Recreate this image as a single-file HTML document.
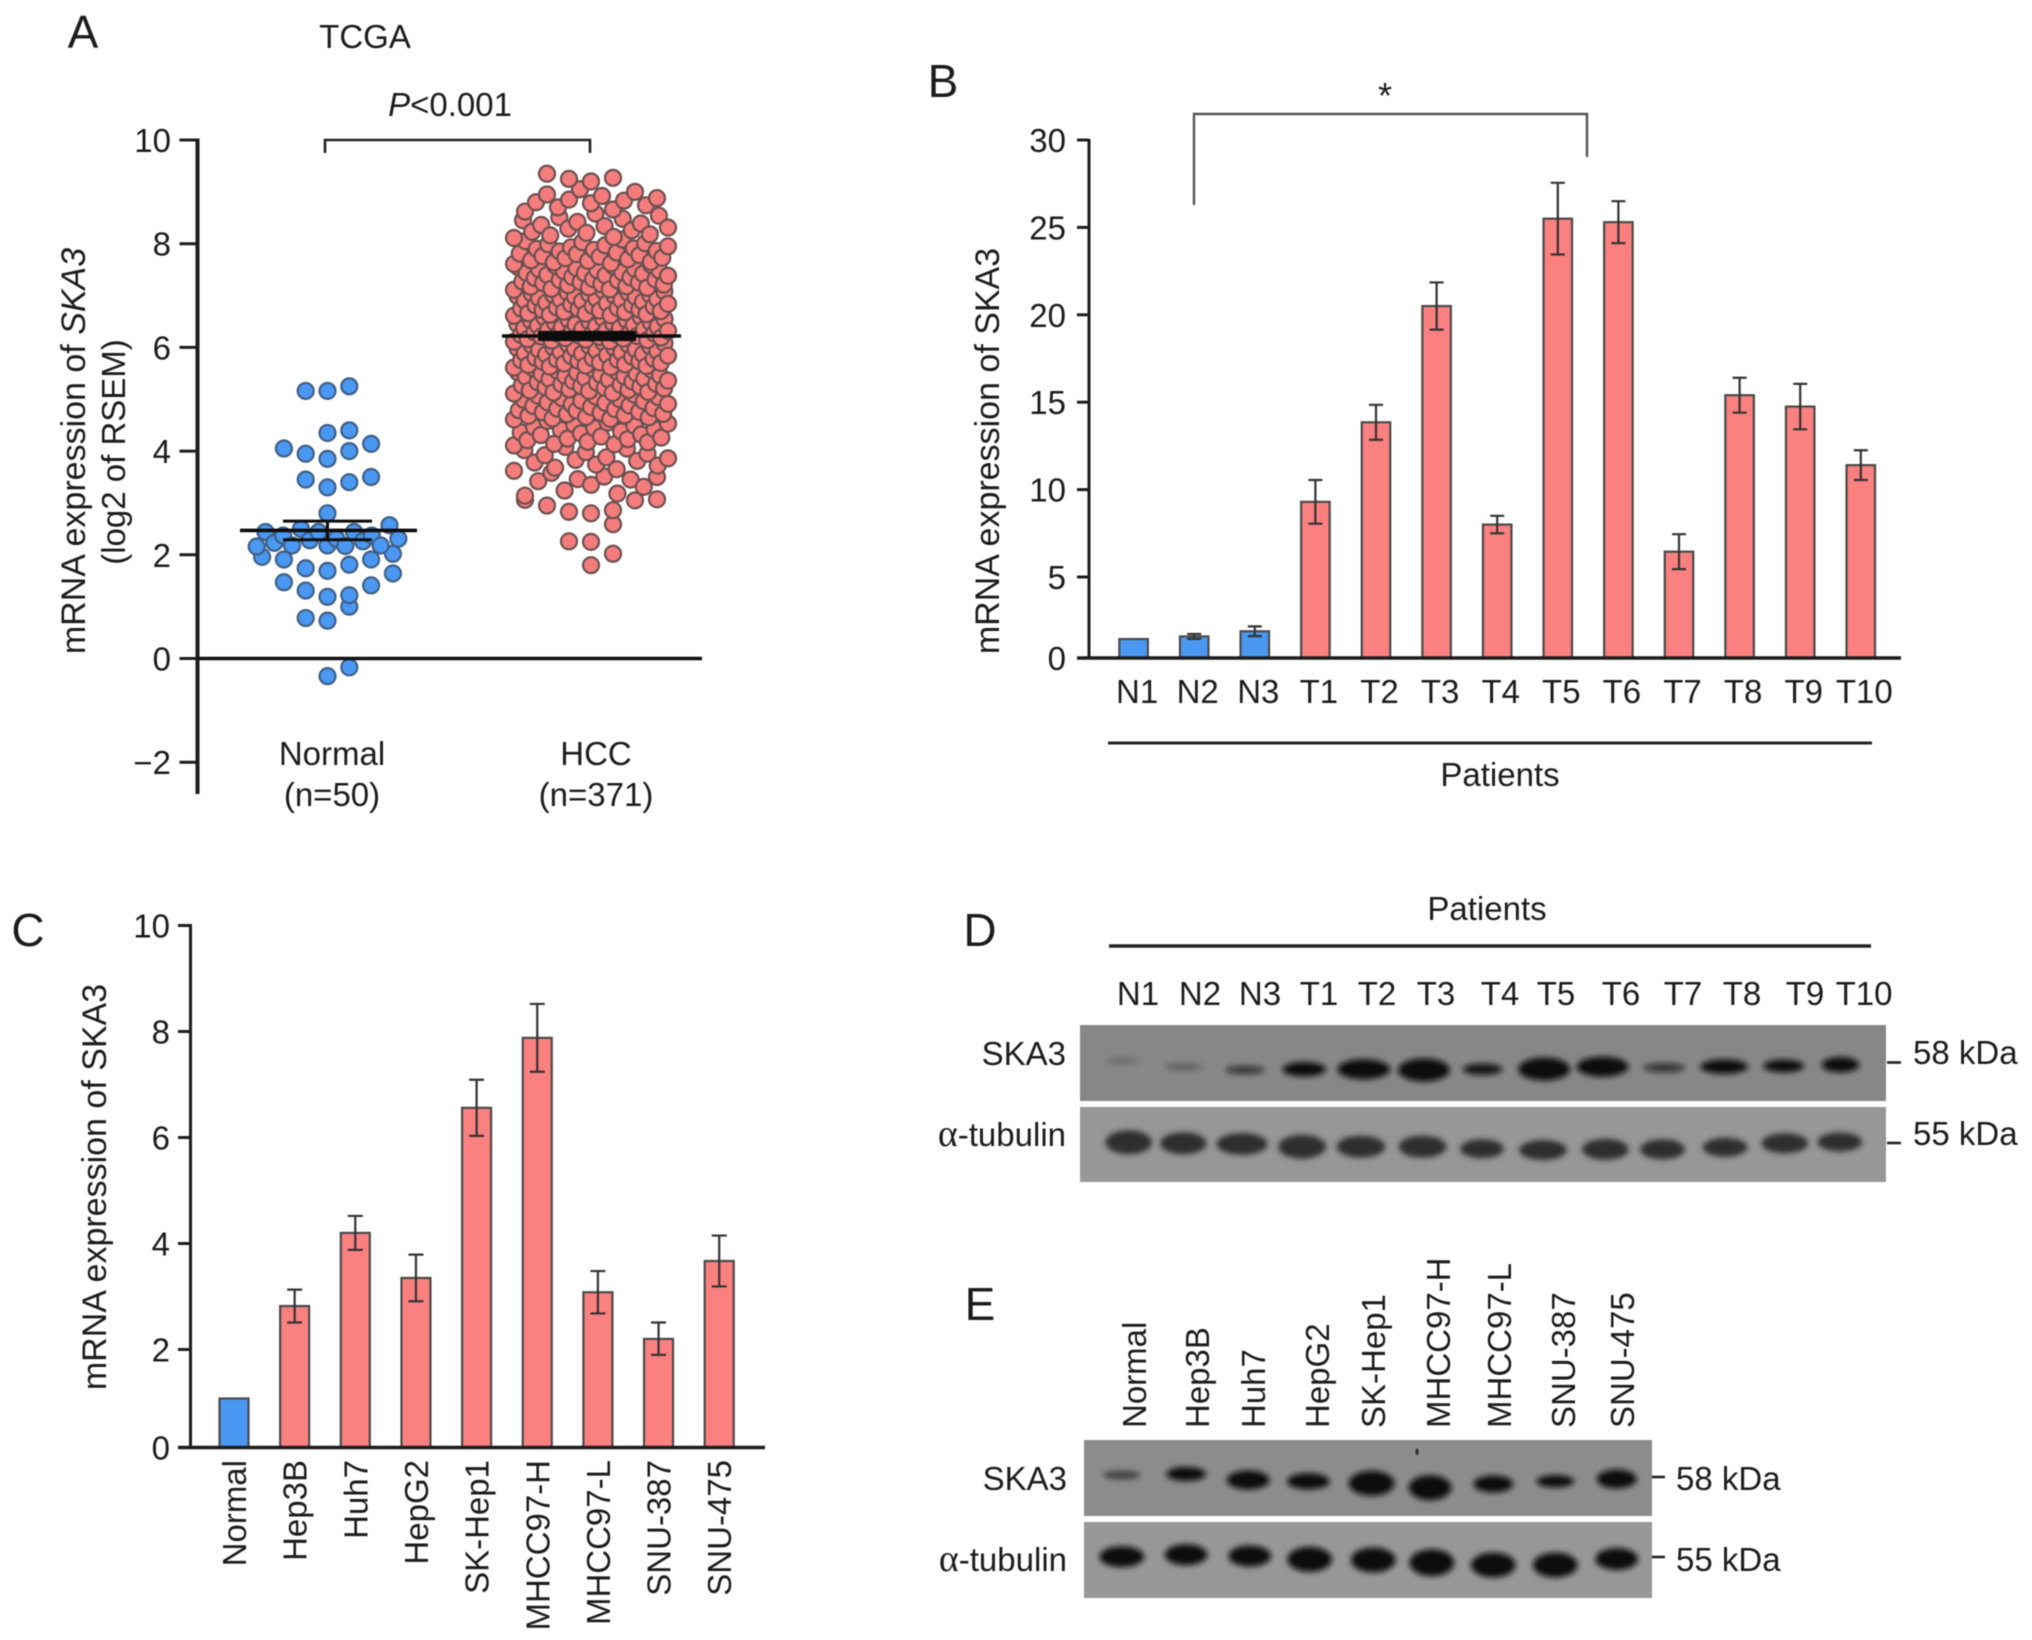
<!DOCTYPE html>
<html lang="en">
<head>
<meta charset="utf-8">
<title>SKA3 expression figure</title>
<style>
html,body{margin:0;padding:0;background:#fff;}
#figure{display:block;width:2032px;height:1640px;font-family:"Liberation Sans",Arial,sans-serif;fill:#1c1c1c;filter:blur(0.55px);}
#figure text{font-size:33px;}
#figure .panel{font-size:46px;}
#figure .ytitle{font-size:34px;}
#figure .alpha{font-size:38px;font-family:"Liberation Serif",serif;}
</style>
</head>
<body>
<svg id="figure" xmlns="http://www.w3.org/2000/svg" width="2032" height="1640" viewBox="0 0 2032 1640">
<defs>
<filter id="b3" x="-40%" y="-80%" width="180%" height="260%"><feGaussianBlur stdDeviation="3"/></filter>
</defs>
<rect width="2032" height="1640" fill="#fff"/>

<!-- Panel letters -->
<text class="panel" x="83" y="48" text-anchor="middle">A</text>
<text class="panel" x="943" y="97" text-anchor="middle">B</text>
<text class="panel" x="28" y="946" text-anchor="middle">C</text>
<text class="panel" x="980" y="946" text-anchor="middle">D</text>
<text class="panel" x="980" y="1320" text-anchor="middle">E</text>

<!-- Panel A static -->
<g id="panelA">
<text x="365" y="48" text-anchor="middle">TCGA</text>
<text x="450" y="116" text-anchor="middle"><tspan font-style="italic">P</tspan>&lt;0.001</text>
<path d="M325 153V140H590V153" fill="none" stroke="#222" stroke-width="2.6"/>
<text class="ytitle" transform="translate(85 451) rotate(-90)" text-anchor="middle">mRNA expression of <tspan font-style="italic">SKA3</tspan></text>
<text transform="translate(125 452) rotate(-90)" text-anchor="middle">(log2 of RSEM)</text>
<text x="332" y="765" text-anchor="middle">Normal</text>
<text x="332" y="806" text-anchor="middle">(n=50)</text>
<text x="596" y="765" text-anchor="middle">HCC</text>
<text x="596" y="806" text-anchor="middle">(n=371)</text>
</g>

<!-- Panel B static -->
<g id="panelB">
<path d="M1194 205V114H1587V157" fill="none" stroke="#555" stroke-width="2.4"/>
<text x="1385" y="108" text-anchor="middle" style="font-size:36px">*</text>
<text class="ytitle" transform="translate(999 451) rotate(-90)" text-anchor="middle">mRNA expression of SKA3</text>
<line x1="1108" x2="1872" y1="743" y2="743" stroke="#222" stroke-width="3"/>
<text x="1500" y="786" text-anchor="middle">Patients</text>
</g>

<!-- Panel C static -->
<g id="panelC">
<text class="ytitle" transform="translate(106 1187) rotate(-90)" text-anchor="middle">mRNA expression of SKA3</text>
</g>

<!-- Panel D blot -->
<g id="panelD">
<text x="1487" y="920" text-anchor="middle">Patients</text>
<line x1="1109" x2="1871" y1="946" y2="946" stroke="#222" stroke-width="3.4"/>
<g text-anchor="middle">
<text x="1138" y="1005">N1</text>
<text x="1200" y="1005">N2</text>
<text x="1260" y="1005">N3</text>
<text x="1319" y="1005">T1</text>
<text x="1377" y="1005">T2</text>
<text x="1436" y="1005">T3</text>
<text x="1500" y="1005">T4</text>
<text x="1556" y="1005">T5</text>
<text x="1621" y="1005">T6</text>
<text x="1683" y="1005">T7</text>
<text x="1742" y="1005">T8</text>
<text x="1805" y="1005">T9</text>
<text x="1864" y="1005">T10</text>
</g>
<rect x="1080" y="1025" width="806" height="76" fill="#878787"/>
<rect x="1080" y="1107" width="806" height="75" fill="#979797"/>
<g fill="#0c0c0c" filter="url(#b3)" transform="translate(1080 0) scale(.994 1) translate(-1080 0)">
<ellipse cx="1123" cy="1061" rx="17" ry="3.2" opacity=".2"/>
<ellipse cx="1184" cy="1067" rx="19" ry="3.8" opacity=".28"/>
<ellipse cx="1246" cy="1070" rx="20" ry="4" opacity=".7"/>
<ellipse cx="1305.6" cy="1069.3" rx="22" ry="7.2"/>
<ellipse cx="1365.5" cy="1069.3" rx="26.5" ry="10"/>
<ellipse cx="1426" cy="1070" rx="26" ry="11.5"/>
<ellipse cx="1485" cy="1069.3" rx="20" ry="5.6" opacity=".95"/>
<ellipse cx="1547" cy="1069" rx="26" ry="11.5"/>
<ellipse cx="1605.7" cy="1066.7" rx="26" ry="10"/>
<ellipse cx="1667.7" cy="1067.7" rx="21" ry="4.6" opacity=".7"/>
<ellipse cx="1728" cy="1066.7" rx="24" ry="7.2"/>
<ellipse cx="1788" cy="1066" rx="20.5" ry="6.4"/>
<ellipse cx="1845" cy="1064.7" rx="19" ry="7.6"/>
</g>
<g fill="#2e2e2e" filter="url(#b3)" transform="translate(1080 0) scale(.994 1) translate(-1080 0)">
<ellipse cx="1129" cy="1142.3" rx="23.5" ry="12"/>
<ellipse cx="1184" cy="1143.3" rx="23.5" ry="11"/>
<ellipse cx="1243" cy="1144" rx="25.5" ry="11"/>
<ellipse cx="1303.5" cy="1146.7" rx="24" ry="12"/>
<ellipse cx="1362.6" cy="1146.7" rx="24.5" ry="11"/>
<ellipse cx="1424.6" cy="1146.7" rx="24" ry="11"/>
<ellipse cx="1484.5" cy="1148.7" rx="22" ry="9.5"/>
<ellipse cx="1545.8" cy="1150" rx="24" ry="10"/>
<ellipse cx="1608.5" cy="1149.3" rx="23.5" ry="10.5"/>
<ellipse cx="1666" cy="1149.3" rx="22.5" ry="10"/>
<ellipse cx="1729" cy="1147.3" rx="22.5" ry="9.5"/>
<ellipse cx="1789" cy="1143.3" rx="23.5" ry="10"/>
<ellipse cx="1844.4" cy="1142" rx="22.5" ry="9.5"/>
</g>
<text x="1066" y="1065" text-anchor="end">SKA3</text>
<text x="1066" y="1146" text-anchor="end"><tspan class="alpha">α</tspan>-tubulin</text>
<line x1="1887" x2="1901" y1="1062.5" y2="1062.5" stroke="#222" stroke-width="2.6"/>
<line x1="1887" x2="1901" y1="1143" y2="1143" stroke="#222" stroke-width="2.6"/>
<text x="1913" y="1064">58 kDa</text>
<text x="1913" y="1145">55 kDa</text>
</g>

<!-- Panel E blot -->
<g id="panelE">
<g>
<text transform="translate(1146 1428) rotate(-90)">Normal</text>
<text transform="translate(1209 1428) rotate(-90)">Hep3B</text>
<text transform="translate(1265 1428) rotate(-90)">Huh7</text>
<text transform="translate(1329 1428) rotate(-90)">HepG2</text>
<text transform="translate(1385 1428) rotate(-90)">SK-Hep1</text>
<text transform="translate(1450 1428) rotate(-90)">MHCC97-H</text>
<text transform="translate(1511 1428) rotate(-90)">MHCC97-L</text>
<text transform="translate(1575 1428) rotate(-90)">SNU-387</text>
<text transform="translate(1634 1428) rotate(-90)">SNU-475</text>
</g>
<rect x="1084" y="1440" width="568" height="76" fill="#8c8c8c"/>
<rect x="1084" y="1522" width="568" height="76" fill="#979797"/>
<g fill="#0c0c0c" filter="url(#b3)" transform="translate(1084 0) scale(.995 1) translate(-1084 0)">
<ellipse cx="1122" cy="1475" rx="19" ry="4.6" opacity=".5"/>
<ellipse cx="1186.6" cy="1474" rx="20" ry="7"/>
<ellipse cx="1249" cy="1480" rx="21.5" ry="9.5"/>
<ellipse cx="1309.5" cy="1481.3" rx="21.5" ry="8"/>
<ellipse cx="1373" cy="1483.3" rx="23" ry="12.5"/>
<ellipse cx="1431.8" cy="1487.7" rx="21.5" ry="12.5"/>
<ellipse cx="1495.3" cy="1484" rx="20" ry="8.5"/>
<ellipse cx="1557.6" cy="1481.3" rx="19" ry="6.2"/>
<ellipse cx="1619.4" cy="1479" rx="20" ry="9.5"/>
</g>
<ellipse cx="1417" cy="1451.7" rx="1.7" ry="3.5" fill="#333"/>
<g fill="#0e0e0e" filter="url(#b3)" transform="translate(1084 0) scale(.995 1) translate(-1084 0)">
<ellipse cx="1122" cy="1556.7" rx="22.5" ry="10.5"/>
<ellipse cx="1186.6" cy="1554.7" rx="21.5" ry="10.5"/>
<ellipse cx="1250.6" cy="1556" rx="21.5" ry="10.5"/>
<ellipse cx="1310.7" cy="1559.3" rx="22.5" ry="12.5"/>
<ellipse cx="1374.7" cy="1560" rx="22.5" ry="12.5"/>
<ellipse cx="1433.6" cy="1562.7" rx="22.5" ry="13.5"/>
<ellipse cx="1495.3" cy="1565" rx="22.5" ry="12.5"/>
<ellipse cx="1557.6" cy="1565" rx="22.5" ry="12.5"/>
<ellipse cx="1619.4" cy="1559" rx="21.5" ry="11"/>
</g>
<text x="1067" y="1490" text-anchor="end">SKA3</text>
<text x="1067" y="1571" text-anchor="end"><tspan class="alpha">α</tspan>-tubulin</text>
<line x1="1652" x2="1665" y1="1477" y2="1477" stroke="#222" stroke-width="2.6"/>
<line x1="1652" x2="1665" y1="1557" y2="1557" stroke="#222" stroke-width="2.6"/>
<text x="1676" y="1490">58 kDa</text>
<text x="1676" y="1571">55 kDa</text>
</g>
</svg>

<script>
// ---------- Panel A data ----------
const aTickValues = [10, 8, 6, 4, 2, 0, -2];
const aTickLabels = ['10', '8', '6', '4', '2', '0', '\u22122'];
const normalValues = [
  5.16, 5.16, 5.25,
  4.35, 4.40,
  4.05, 3.95, 3.85, 4.00, 4.14,
  3.45, 3.30, 3.40, 3.50,
  2.80,
  2.31, 2.50, 2.26, 2.44, 2.18, 2.17, 2.37, 2.18, 2.16, 2.37, 2.18, 2.44, 2.23, 2.44, 2.31, 2.57, 2.28,
  1.96, 1.91, 1.74, 1.69, 1.81, 1.91, 2.02,
  1.47, 1.31, 1.19, 1.22, 1.41, 1.64,
  1.00, 0.78, 0.73,
  -0.17, -0.34
];
const hccValues = [
  1.80, 2.02,
  2.25, 2.26, 2.59,
  2.80, 2.83, 2.86, 2.95, 3.05, 3.06, 3.07,
  3.14, 3.18, 3.24, 3.31, 3.35, 3.42, 3.45, 3.46, 3.50, 3.51, 3.58,
  3.62, 3.65, 3.68, 3.72, 3.74, 3.78, 3.81, 3.83, 3.86, 3.88, 3.92, 3.95, 3.98, 4.02, 4.05, 4.08,
  4.11, 4.13, 4.14, 4.17, 4.18, 4.21, 4.23, 4.24, 4.26, 4.28, 4.31, 4.32, 4.34, 4.36, 4.38, 4.41, 4.42, 4.44, 4.46, 4.49, 4.51, 4.53, 4.55, 4.58,
  4.61, 4.62, 4.63, 4.65, 4.66, 4.68, 4.69, 4.71, 4.72, 4.74, 4.75, 4.76, 4.78, 4.79, 4.81, 4.82, 4.83, 4.85, 4.87, 4.88, 4.90, 4.91, 4.93, 4.94, 4.96, 4.97, 4.99, 5.00, 5.02, 5.04, 5.05, 5.07, 5.09,
  5.11, 5.12, 5.13, 5.14, 5.16, 5.17, 5.18, 5.19, 5.21, 5.22, 5.23, 5.24, 5.25, 5.27, 5.28, 5.29, 5.30, 5.32, 5.33, 5.34, 5.35, 5.36, 5.38, 5.39, 5.40, 5.41, 5.43, 5.44, 5.45, 5.46, 5.47, 5.49, 5.50, 5.51, 5.52, 5.54, 5.55, 5.56, 5.58, 5.59,
  5.61, 5.62, 5.63, 5.64, 5.65, 5.66, 5.67, 5.69, 5.70, 5.71, 5.72, 5.73, 5.74, 5.75, 5.76, 5.77, 5.78, 5.79, 5.80, 5.82, 5.83, 5.84, 5.85, 5.86, 5.87, 5.88, 5.89, 5.90, 5.92, 5.93, 5.94, 5.95, 5.96, 5.97, 5.98, 5.99, 6.00, 6.02, 6.03, 6.04, 6.05, 6.07, 6.08, 6.09,
  6.11, 6.12, 6.13, 6.14, 6.15, 6.16, 6.17, 6.18, 6.19, 6.20, 6.21, 6.22, 6.23, 6.24, 6.25, 6.26, 6.27, 6.28, 6.29, 6.30, 6.31, 6.32, 6.33, 6.34, 6.35, 6.36, 6.37, 6.38, 6.39, 6.40, 6.41, 6.42, 6.43, 6.44, 6.45, 6.46, 6.47, 6.48, 6.50, 6.51, 6.52, 6.53, 6.55, 6.56, 6.57, 6.59,
  6.61, 6.62, 6.63, 6.64, 6.65, 6.66, 6.68, 6.69, 6.70, 6.71, 6.72, 6.73, 6.74, 6.75, 6.76, 6.77, 6.79, 6.80, 6.81, 6.82, 6.83, 6.84, 6.85, 6.86, 6.88, 6.89, 6.90, 6.91, 6.92, 6.93, 6.94, 6.95, 6.97, 6.98, 6.99, 7.00, 7.01, 7.02, 7.03, 7.04, 7.05, 7.06, 7.08, 7.09,
  7.11, 7.12, 7.13, 7.15, 7.16, 7.17, 7.18, 7.20, 7.21, 7.22, 7.24, 7.25, 7.26, 7.27, 7.29, 7.30, 7.31, 7.32, 7.34, 7.35, 7.36, 7.38, 7.39, 7.40, 7.42, 7.43, 7.44, 7.45, 7.47, 7.48, 7.49, 7.51, 7.52, 7.53, 7.55, 7.56, 7.57, 7.59,
  7.61, 7.62, 7.64, 7.65, 7.67, 7.68, 7.70, 7.72, 7.73, 7.75, 7.76, 7.78, 7.80, 7.81, 7.83, 7.85, 7.86, 7.88, 7.90, 7.91, 7.93, 7.95, 7.97, 7.99, 8.01, 8.03, 8.05, 8.08,
  8.11, 8.13, 8.16, 8.18, 8.21, 8.23, 8.26, 8.29, 8.31, 8.34, 8.36, 8.39, 8.42, 8.45, 8.48, 8.51, 8.54, 8.58,
  8.62, 8.66, 8.70, 8.74, 8.78, 8.80, 8.83, 8.85, 8.88, 8.92, 8.95, 9.00, 9.05,
  9.20, 9.25, 9.27, 9.35
];
const normalMean = 2.47;
const normalSem = 0.18;
const hccMean = 6.22;
const hccSem = 0.06;

// ---------- Panel B data ----------
const bCategories = ['N1', 'N2', 'N3', 'T1', 'T2', 'T3', 'T4', 'T5', 'T6', 'T7', 'T8', 'T9', 'T10'];
const bValues = [1.17, 1.33, 1.65, 9.3, 13.85, 20.5, 8.0, 25.5, 25.3, 6.45, 15.4, 14.75, 11.4];
const bErrors = [0, 0.15, 0.3, 1.25, 1.0, 1.35, 0.5, 2.05, 1.2, 1.0, 1.0, 1.3, 0.85];
const bTicks = [30, 25, 20, 15, 10, 5, 0];

// ---------- Panel C data ----------
const cCategories = ['Normal', 'Hep3B', 'Huh7', 'HepG2', 'SK-Hep1', 'MHCC97-H', 'MHCC97-L', 'SNU-387', 'SNU-475'];
const cValues = [1.0, 2.82, 4.2, 3.35, 6.56, 7.88, 3.08, 2.2, 3.67];
const cErrors = [0, 0.31, 0.32, 0.44, 0.53, 0.64, 0.4, 0.31, 0.48];
const cTicks = [10, 8, 6, 4, 2, 0];

// ---------- Axis functions ----------
const SVGNS = 'http://www.w3.org/2000/svg';
function make(tag, parent, attrs, text) {
  const n = document.createElementNS(SVGNS, tag);
  for (const k in attrs) n.setAttribute(k, attrs[k]);
  if (text !== undefined) n.textContent = text;
  parent.appendChild(n);
  return n;
}
function yA(v) { return 658.5 - v * 51.85; }
function yB(v) { return v <= 5 ? 658 - v * 16.2 : 577 - (v - 5) * 17.48; }
function xB(i) { return 1133.6 + i * 60.6; }
function yC(v) { return v <= 2 ? 1447.5 - v * 49 : 1349.5 - (v - 2) * 53; }
function xC(i) { return 234 + i * 60.65; }

const BLUE = '#4a98f2';
const RED = '#fb8080';

// Binned swarm layout. Sparse rows spread outward from the centre lowest-first;
// rows that exceed the column count are interleaved across the full row width.
function swarm(values, binOffset, colWidth, maxSpan, evenSign) {
  const bins = {};
  values.forEach(function (v) {
    const k = Math.floor((v - binOffset) / 0.5);
    (bins[k] = bins[k] || []).push(v);
  });
  const out = [];
  Object.keys(bins).forEach(function (k) {
    const row = bins[k].slice().sort(function (a, b) { return a - b; });
    const n = row.length;
    if (n > 8) {
      const span = n < 15 ? maxSpan - 1 : maxSpan;
      const order = row.map(function (v, i) { return i; }).sort(function (a, b) {
        return (a * 0.618034) % 1 - (b * 0.618034) % 1;
      });
      order.forEach(function (idx, j) {
        out.push({ v: row[idx], dx: (j - (n - 1) / 2) * (span / (n - 1)) * colWidth });
      });
      return;
    }
    const firstSide = n % 2 === 0 ? (n === 2 ? 1 : evenSign) : -1;
    row.forEach(function (v, i) {
      const rank = Math.ceil(i / 2) * (i % 2 === 1 ? firstSide : -firstSide);
      out.push({ v: v, dx: rank * colWidth });
    });
  });
  return out;
}

function drawTicks(parent, ticks, labels, yFn, axisX, tickLen, labelX, prefix) {
  ticks.forEach(function (t, i) {
    const y = yFn(t);
    const tickMark = make('line', parent, { x1: axisX - tickLen, x2: axisX, y1: y, y2: y, stroke: '#1c1c1c', 'stroke-width': 3 });
    
    
    const lab = make('text', parent, { x: labelX, y: y + 12, 'text-anchor': 'end' }, labels[i]);
    
    
  });
}

function drawBars(parent, cats, vals, errs, xFn, yFn, base, width, capHalf, prefix) {
  cats.forEach(function (c, i) {
    const x = xFn(i);
    const top = yFn(vals[i]);
    const isControl = c.charAt(0) === 'N';
    const bar = make('rect', parent, { x: x - width / 2, y: top, width: width, height: base - top, fill: isControl ? BLUE : RED, stroke: '#4a4a4a', 'stroke-width': 2.2 });
    
    
    if (errs[i] > 0) {
      const hi = yFn(vals[i] + errs[i]);
      const lo = yFn(vals[i] - errs[i]);
      const whisker = make('path', parent, { d: 'M' + (x - capHalf) + ' ' + hi + 'H' + (x + capHalf) + 'M' + x + ' ' + hi + 'V' + lo + 'M' + (x - capHalf) + ' ' + lo + 'H' + (x + capHalf), fill: 'none', stroke: '#333', 'stroke-width': 2.2 });
      
      
    }
  });
}

// ---------- Panel A ----------
const pA = document.getElementById('panelA');
const axisA = make('line', pA, { x1: 197.5, x2: 197.5, y1: 138.5, y2: 794, stroke: '#1c1c1c', 'stroke-width': 4 });


drawTicks(pA, aTickValues, aTickLabels, yA, 197.5, 18, 171, 'a');

swarm(normalValues, 0.15, 21.8, 6.5, 1).forEach(function (p) {
  const dot = make('circle', pA, { cx: 327.5 + p.dx, cy: yA(p.v), r: 8, fill: BLUE, stroke: '#3f5f86', 'stroke-width': 2.2 });
  
  
});
swarm(hccValues, 0.1, 22, 7, -1).forEach(function (p) {
  const dot = make('circle', pA, { cx: 591 + p.dx, cy: yA(p.v), r: 8, fill: '#f47c7c', stroke: '#6b5050', 'stroke-width': 2.2 });
  
  
});

const zeroLine = make('line', pA, { x1: 197.5, x2: 702, y1: yA(0), y2: yA(0), stroke: '#111', 'stroke-width': 3.4 });



const nMean = make('line', pA, { x1: 240, x2: 417, y1: yA(normalMean), y2: yA(normalMean), stroke: '#0c0c0c', 'stroke-width': 3.6 });


const nErr = make('path', pA, { d: 'M283 ' + yA(normalMean + normalSem) + 'H372M327.5 ' + yA(normalMean + normalSem) + 'V' + yA(normalMean - normalSem) + 'M283 ' + yA(normalMean - normalSem) + 'H372', fill: 'none', stroke: '#0c0c0c', 'stroke-width': 3 });



const hMean = make('line', pA, { x1: 502, x2: 681, y1: yA(hccMean), y2: yA(hccMean), stroke: '#0c0c0c', 'stroke-width': 3.6 });


const hErr = make('path', pA, { d: 'M538 ' + yA(hccMean + hccSem) + 'H636M591 ' + yA(hccMean + hccSem) + 'V' + yA(hccMean - hccSem) + 'M538 ' + yA(hccMean - hccSem) + 'H636', fill: 'none', stroke: '#0c0c0c', 'stroke-width': 4 });



// ---------- Panel B ----------
const pB = document.getElementById('panelB');
drawBars(pB, bCategories, bValues, bErrors, xB, yB, 658, 28.5, 7, 'b');
const axisBY = make('line', pB, { x1: 1089, x2: 1089, y1: 139, y2: 658, stroke: '#1c1c1c', 'stroke-width': 3 });


const axisBX = make('line', pB, { x1: 1077, x2: 1901, y1: 658, y2: 658, stroke: '#1c1c1c', 'stroke-width': 3.4 });


drawTicks(pB, bTicks, bTicks.map(String), yB, 1089, 12, 1066, 'b');
bCategories.forEach(function (c, i) {
  const lab = make('text', pB, { x: xB(i) + 3.5, y: 703, 'text-anchor': 'middle' }, c);
  
  
});

// ---------- Panel C ----------
const pC = document.getElementById('panelC');
drawBars(pC, cCategories, cValues, cErrors, xC, yC, 1447.5, 29, 7.5, 'c');
const axisCY = make('line', pC, { x1: 190.5, x2: 190.5, y1: 924, y2: 1447.5, stroke: '#1c1c1c', 'stroke-width': 3 });


const axisCX = make('line', pC, { x1: 178, x2: 765, y1: 1447.5, y2: 1447.5, stroke: '#1c1c1c', 'stroke-width': 3.4 });


drawTicks(pC, cTicks, cTicks.map(String), yC, 190.5, 12.5, 170, 'c');
cCategories.forEach(function (c, i) {
  const lab = make('text', pC, { transform: 'translate(' + (xC(i) + 12) + ' 1460) rotate(-90)', 'text-anchor': 'end' }, c);
  
  
});
</script>
</body>
</html>
